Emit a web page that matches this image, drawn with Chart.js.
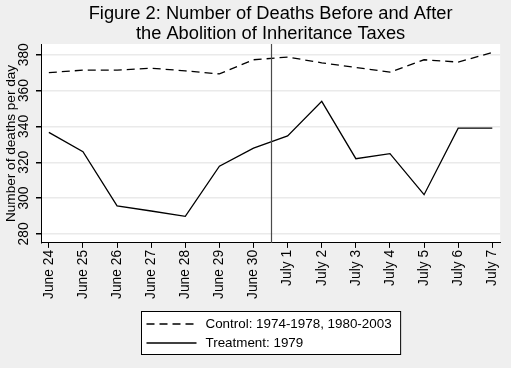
<!DOCTYPE html>
<html>
<head>
<meta charset="utf-8">
<script src="https://cdn.jsdelivr.net/npm/chart.js@4"></script>
<style>
  html, body { margin: 0; padding: 0; background: #efefef; }
</style>
</head>
<body>
<canvas id="myChart" width="511" height="368"></canvas>
<script>
const days = ["June 24", "June 25", "June 26", "June 27", "June 28", "June 29", "June 30",
  "July 1", "July 2", "July 3", "July 4", "July 5", "July 6", "July 7"];
const control = [370, 371.4, 371.4, 372.5, 371, 369.3, 377.2, 378.7, 375.5, 372.9, 370.3, 377.2, 375.9, 381.3];
const treatment = [336.7, 325.9, 295.7, 292.8, 289.8, 317.8, 327.9, 334.7, 354, 322, 324.8, 301.9, 339, 339];
const yTicks = [280, 300, 320, 340, 360, 380];
const titleLines = ["Figure 2: Number of Deaths Before and After", "the Abolition of Inheritance Taxes"];
const seriesNames = ["Control: 1974-1978, 1980-2003", "Treatment: 1979"];
const cutoff = 6.5; // between June 30 and July 1

const FONT = "'Liberation Sans', Arial, sans-serif";

const stataLook = {
  id: "stataLook",
  beforeDraw(chart) {
    const { ctx, chartArea: a } = chart;
    ctx.save();
    ctx.fillStyle = "#efefef";
    ctx.fillRect(0, 0, chart.width, chart.height);
    ctx.fillStyle = "#ffffff";
    ctx.fillRect(a.left, a.top, a.right - a.left, a.bottom - a.top);
    ctx.restore();
  },
  afterDatasetsDraw(chart) {
    const { ctx, chartArea: a } = chart;
    const x = Math.round(chart.scales.x.getPixelForValue(cutoff)) + 0.5;
    ctx.save();
    ctx.strokeStyle = "#4a4a4a";
    ctx.lineWidth = 1.2;
    ctx.beginPath();
    ctx.moveTo(x, a.top);
    ctx.lineTo(x, a.bottom);
    ctx.stroke();
    ctx.restore();
  },
  afterDraw(chart) {
    const { ctx, chartArea: a } = chart;
    const cx = (a.left + a.right) / 2;
    ctx.save();
    // title
    ctx.fillStyle = "#000";
    ctx.font = "18.3px " + FONT;
    ctx.textAlign = "center";
    ctx.textBaseline = "alphabetic";
    titleLines.forEach((t, i) => ctx.fillText(t, cx, 19 + i * 20));

    // legend
    ctx.font = "13.4px " + FONT;
    const textW = Math.max(...seriesNames.map(s => ctx.measureText(s).width));
    const boxW = 5 + 50 + 9 + textW + 9;
    const boxX = Math.round(cx - boxW / 2) + 0.5;
    const boxY = 311.5;
    const boxH = 43;
    ctx.fillStyle = "#fff";
    ctx.fillRect(boxX, boxY, boxW, boxH);
    ctx.strokeStyle = "#000";
    ctx.lineWidth = 1;
    ctx.strokeRect(boxX, boxY, boxW, boxH);
    chart.data.datasets.forEach((ds, i) => {
      const y = boxY + 12.5 + i * 19;
      ctx.strokeStyle = ds.borderColor;
      ctx.lineWidth = ds.borderWidth;
      ctx.setLineDash(ds.borderDash || []);
      ctx.beginPath();
      ctx.moveTo(boxX + 5, y);
      ctx.lineTo(boxX + 55, y);
      ctx.stroke();
      ctx.setLineDash([]);
      ctx.fillStyle = "#000";
      ctx.textAlign = "left";
      ctx.textBaseline = "middle";
      ctx.fillText(ds.label, boxX + 64, y);
    });
    ctx.restore();
  }
};

const ctx = document.getElementById("myChart").getContext("2d");

const myChart = new Chart(ctx, {
  type: "line",
  data: {
    datasets: [
      {
        label: seriesNames[0],
        data: control.map((v, i) => ({ x: i, y: v })),
        borderColor: "#000",
        borderWidth: 1.3,
        borderDash: [8, 5],
        pointRadius: 0,
        tension: 0,
      },
      {
        label: seriesNames[1],
        data: treatment.map((v, i) => ({ x: i, y: v })),
        borderColor: "#000",
        borderWidth: 1.3,
        pointRadius: 0,
        tension: 0,
      },
    ],
  },
  options: {
    responsive: false,
    animation: false,
    devicePixelRatio: 1,
    layout: {
      padding: { top: 44, right: 8, bottom: 67, left: 0 },
    },
    plugins: {
      legend: { display: false },
      title: { display: false },
      tooltip: { enabled: false },
    },
    scales: {
      x: {
        type: "linear",
        min: -0.23,
        max: 13.23,
        afterBuildTicks: (axis) => {
          axis.ticks = days.map((_, i) => ({ value: i }));
        },
        ticks: {
          autoSkip: false,
          minRotation: 90,
          maxRotation: 90,
          padding: 2,
          color: "#000",
          font: { family: FONT, size: 13.8 },
          callback: (v) => days[v],
        },
        grid: {
          drawOnChartArea: false,
          tickLength: 5,
          tickColor: "#000",
        },
        border: { color: "#000", width: 1 },
      },
      y: {
        min: 275,
        max: 386,
        afterBuildTicks: (axis) => {
          axis.ticks = yTicks.map((v) => ({ value: v }));
        },
        afterFit: (axis) => {
          axis.width = 41;
        },
        ticks: {
          minRotation: 90,
          maxRotation: 90,
          crossAlign: "center",
          padding: 0,
          color: "#000",
          font: { family: FONT, size: 13.8 },
        },
        grid: {
          color: "#eaeaea",
          lineWidth: 1.5,
          tickLength: 5,
          tickColor: "#000",
        },
        border: { color: "#000", width: 1 },
        title: {
          display: true,
          text: "Number of deaths per day",
          color: "#000",
          font: { family: FONT, size: 13.6 },
          padding: { top: 3, bottom: 0 },
        },
      },
    },
  },
  plugins: [stataLook],
});
</script>
</body>
</html>
